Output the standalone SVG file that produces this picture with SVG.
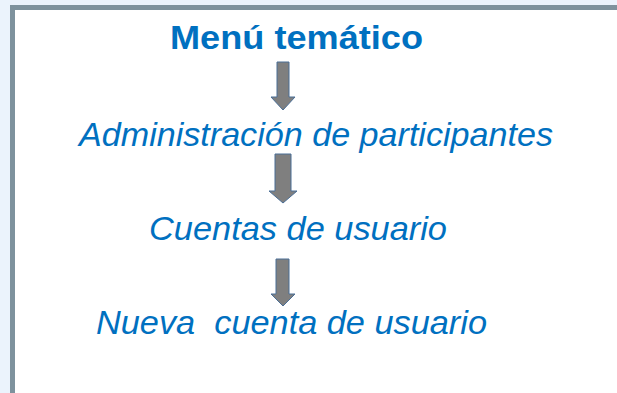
<svg xmlns="http://www.w3.org/2000/svg" width="617" height="393" viewBox="0 0 617 393">
<style>
.t{font-family:"Liberation Sans",Arial,sans-serif;fill:#0070C0;font-size:33px;font-style:italic}
.b{font-family:"Liberation Sans",Arial,sans-serif;fill:#0070C0;font-size:33px;font-weight:bold}
.arr{fill:#7F7F7F;stroke:#4A6E96;stroke-width:1}
</style>
<rect x="0" y="0" width="617" height="393" fill="#EBF3FC"/>
<rect x="12.5" y="7.5" width="620" height="400" fill="#FFFFFF" stroke="#7E929D" stroke-width="5"/>
<g id="n1"><text class="b" x="170" y="48.5" textLength="253" lengthAdjust="spacingAndGlyphs">Menú temático</text></g>
<g id="n2"><text class="t" x="79" y="146" textLength="474" lengthAdjust="spacingAndGlyphs">Administración de participantes</text></g>
<g id="n3"><text class="t" x="149" y="239.5" textLength="298" lengthAdjust="spacingAndGlyphs">Cuentas de usuario</text></g>
<g id="n4"><text class="t" x="96" y="333.5" textLength="391" lengthAdjust="spacingAndGlyphs" xml:space="preserve">Nueva  cuenta de usuario</text></g>
<g id="connectors">
<path class="arr" d="M277,62 H289 V97 H295 L283,110 L271,97 H277 Z"/>
<path class="arr" d="M275,154 H291 V191 H297 L283,203 L269,191 H275 Z"/>
<path class="arr" d="M276,259 H289 V294 H295 L283,306 L271,294 H276 Z"/>
</g>
</svg>
